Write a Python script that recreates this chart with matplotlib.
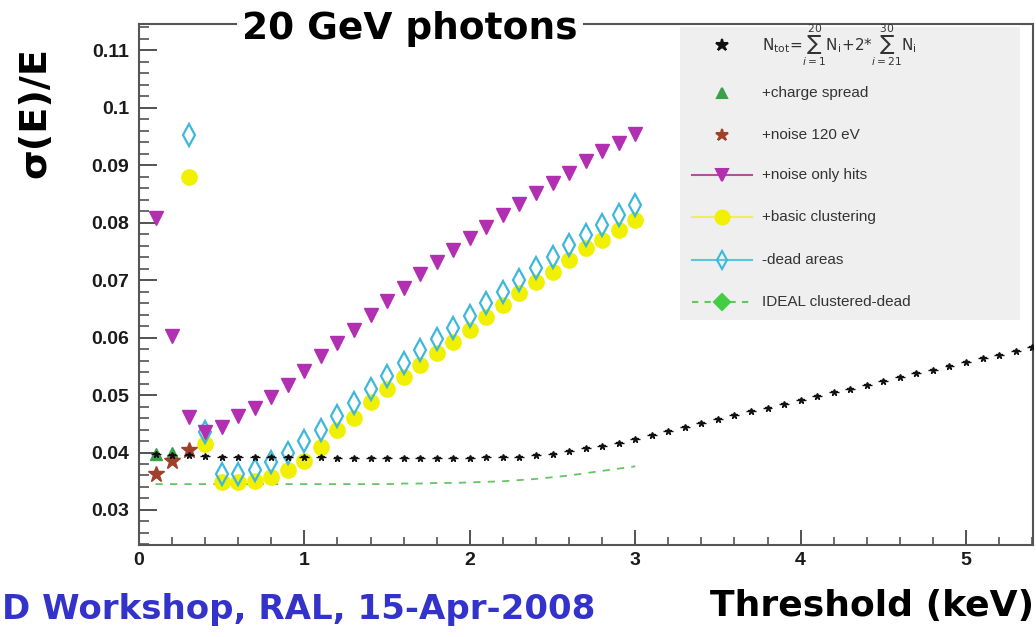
import matplotlib
matplotlib.use("Agg")
import matplotlib.pyplot as plt
from matplotlib.lines import Line2D
from matplotlib.patches import Rectangle
from matplotlib.font_manager import FontProperties

# ---------------- data ----------------
# thresholds (keV) for the full-range sum series
thr_sum = [0.1, 0.2, 0.3, 0.4, 0.5, 0.6, 0.7, 0.8, 0.9, 1.0,
           1.1, 1.2, 1.3, 1.4, 1.5, 1.6, 1.7, 1.8, 1.9, 2.0,
           2.1, 2.2, 2.3, 2.4, 2.5, 2.6, 2.7, 2.8, 2.9, 3.0,
           3.1, 3.2, 3.3, 3.4, 3.5, 3.6, 3.7, 3.8, 3.9, 4.0,
           4.1, 4.2, 4.3, 4.4, 4.5, 4.6, 4.7, 4.8, 4.9, 5.0,
           5.1, 5.2, 5.3, 5.4]
res_sum = [0.0398, 0.0395, 0.0395, 0.0394, 0.0393, 0.0393, 0.0392, 0.0392, 0.0392, 0.0392,
           0.0392, 0.0391, 0.0391, 0.0391, 0.0391, 0.0391, 0.0391, 0.0391, 0.0391, 0.0391,
           0.0392, 0.0392, 0.0393, 0.0395, 0.0398, 0.0402, 0.0407, 0.0412, 0.0417, 0.0423,
           0.0430, 0.0437, 0.0444, 0.0451, 0.0458, 0.0465, 0.0472, 0.0478, 0.0485, 0.0492,
           0.0498, 0.0505, 0.0511, 0.0518, 0.0525, 0.0531, 0.0538, 0.0544, 0.0551, 0.0557,
           0.0564, 0.0570, 0.0577, 0.0584]

thr_charge = [0.1, 0.2]
res_charge = [0.0398, 0.0400]

thr_noise = [0.1, 0.2, 0.3]
res_noise = [0.0362, 0.0385, 0.0405]

# thresholds 0.1 .. 3.0 keV
thr = [0.1, 0.2, 0.3, 0.4, 0.5, 0.6, 0.7, 0.8, 0.9, 1.0,
       1.1, 1.2, 1.3, 1.4, 1.5, 1.6, 1.7, 1.8, 1.9, 2.0,
       2.1, 2.2, 2.3, 2.4, 2.5, 2.6, 2.7, 2.8, 2.9, 3.0]
res_noise_hits = [0.0809, 0.0603, 0.0461, 0.0435, 0.0445, 0.0463, 0.0478, 0.0497, 0.0518, 0.0542,
                  0.0568, 0.0591, 0.0614, 0.0640, 0.0663, 0.0687, 0.0710, 0.0732, 0.0752, 0.0773,
                  0.0792, 0.0813, 0.0833, 0.0852, 0.0870, 0.0887, 0.0908, 0.0925, 0.0939, 0.0955]

thr_clus = [0.3, 0.4, 0.5, 0.6, 0.7, 0.8, 0.9, 1.0,
            1.1, 1.2, 1.3, 1.4, 1.5, 1.6, 1.7, 1.8, 1.9, 2.0,
            2.1, 2.2, 2.3, 2.4, 2.5, 2.6, 2.7, 2.8, 2.9, 3.0]
res_clus = [0.0880, 0.0414, 0.0348, 0.0348, 0.0350, 0.0358, 0.0370, 0.0385,
            0.0410, 0.0440, 0.0460, 0.0488, 0.0510, 0.0532, 0.0553, 0.0574, 0.0593, 0.0614,
            0.0636, 0.0657, 0.0678, 0.0696, 0.0715, 0.0735, 0.0756, 0.0770, 0.0788, 0.0805]
res_dead = [0.0953, 0.0435, 0.0362, 0.0362, 0.0370, 0.0383, 0.0400, 0.0420,
            0.0440, 0.0463, 0.0487, 0.0510, 0.0533, 0.0556, 0.0579, 0.0597, 0.0617, 0.0637,
            0.0660, 0.0680, 0.0700, 0.0721, 0.0741, 0.0762, 0.0779, 0.0796, 0.0814, 0.0831]

res_ideal = [0.0345, 0.0345, 0.0345, 0.0345, 0.0345, 0.0345, 0.0345, 0.0345, 0.0345, 0.0345,
             0.0345, 0.0345, 0.0345, 0.0345, 0.0345, 0.0346, 0.0346, 0.0347, 0.0347, 0.0348,
             0.0349, 0.0350, 0.0352, 0.0354, 0.0357, 0.0360, 0.0364, 0.0368, 0.0372, 0.0376]

legend_labels = [r"$\mathrm{N_{tot}}\!=\!\sum_{i=1}^{20}\mathrm{N_i}\!+\!2{*}\sum_{i=21}^{30}\mathrm{N_i}$",
                 "+charge spread", "+noise 120 eV", "+noise only hits",
                 "+basic clustering", "-dead areas", "IDEAL clustered-dead"]

# ---------------- styles ----------------
C_BLACK = "#111111"
C_CHARGE = "#3aa04a"
C_NOISE = "#a0402a"
C_HITS = "#b22fb2"
C_CLUS = "#f0f000"
C_DEAD = "#3cb8dc"
C_IDEAL = "#66c466"

W, H = 1036, 637
fig = plt.figure(figsize=(W / 100, H / 100), dpi=100)
ax = fig.add_axes([139 / W, 1 - 545 / H, (1033 - 139) / W, (545 - 24) / H])

ax.plot(thr, res_ideal, ls=(0, (4, 4)), lw=1.3, color=C_IDEAL, zorder=2)
ax.plot(thr_clus, res_clus, ls="none", marker="o", ms=11, color=C_CLUS,
        mec=C_CLUS, zorder=3)
ax.plot(thr_clus, res_dead, ls="none", marker="d", ms=11, mfc="none",
        mec=C_DEAD, mew=1.6, zorder=4)
ax.plot(thr, res_noise_hits, ls="none", marker="v", ms=10.5, color=C_HITS,
        mec=C_HITS, zorder=5)
ax.plot(thr_charge, res_charge, ls="none", marker="^", ms=8, color=C_CHARGE, zorder=5)
ax.plot(thr_noise, res_noise, ls="none", marker="*", ms=12, color=C_NOISE, zorder=6)
ax.errorbar(thr_sum, res_sum, xerr=0.03, fmt="*", ms=5, color=C_BLACK,
            elinewidth=1.0, capsize=0, zorder=7)

ax.set_xlim(0, 5.405)
ax.set_ylim(0.0239, 0.1146)

ax.set_xticks([0, 1, 2, 3, 4, 5])
ax.set_xticks([i * 0.2 for i in range(28)], minor=True)
ax.set_yticks([0.03, 0.04, 0.05, 0.06, 0.07, 0.08, 0.09, 0.1, 0.11])
ax.set_yticklabels(["0.03", "0.04", "0.05", "0.06", "0.07", "0.08", "0.09", "0.1", "0.11"])
ax.set_yticks([0.024 + i * 0.002 for i in range(46)], minor=True)
ax.set_xticklabels(["0", "1", "2", "3", "4", "5"])

tick_font = FontProperties(family="Liberation Sans", weight="bold", size=14)
for lab in ax.get_xticklabels() + ax.get_yticklabels():
    lab.set_fontproperties(tick_font)
    lab.set_color("#1a1a1a")

ax.tick_params(axis="y", which="major", direction="in", length=13, width=1.3,
               color="#444444", pad=7)
ax.tick_params(axis="y", which="minor", direction="in", length=7, width=1.1,
               color="#444444")
ax.tick_params(axis="x", which="major", direction="in", length=11, width=1.3,
               color="#444444", pad=5)
ax.tick_params(axis="x", which="minor", direction="in", length=6, width=1.1,
               color="#444444")
for s in ax.spines.values():
    s.set_color("#555555")
    s.set_linewidth(1.5)

# ---------------- legend panel ----------------
lx0, lx1 = (680 - 139) / 894, (1020 - 139) / 894
ly0, ly1 = (545 - 320) / 521, (545 - 27) / 521
ax.add_patch(Rectangle((lx0, ly0), lx1 - lx0, ly1 - ly0, transform=ax.transAxes,
                       facecolor="#efefef", edgecolor="none", zorder=8))


def px_x(p):
    return (p - 139) / 894


def px_y(p):
    return (545 - p) / 521


rows_y = [45, 93, 135, 175, 217, 260, 302]
sym_x = 722
text_x = 762
handles = [
    dict(marker="*", ms=9, color=C_BLACK, ls="none"),
    dict(marker="^", ms=7, color=C_CHARGE, ls="none"),
    dict(marker="*", ms=9, color=C_NOISE, ls="none"),
    dict(marker="v", ms=9, color=C_HITS, ls="-", lc="#b050a0"),
    dict(marker="o", ms=10, color=C_CLUS, ls="-", lc="#eeee66"),
    dict(marker="d", ms=9, color=C_DEAD, ls="-", lc="#55c8dc", mfc="none"),
    dict(marker="D", ms=8, color="#44cc44", ls=(0, (3, 3)), lc=C_IDEAL),
]
for y, h, label in zip(rows_y, handles, legend_labels):
    yy = px_y(y)
    if h["ls"] != "none":
        ax.add_line(Line2D([px_x(692), px_x(752)], [yy, yy], transform=ax.transAxes,
                           color=h["lc"], lw=1.5, ls=h["ls"], zorder=9))
    ax.add_line(Line2D([px_x(sym_x)], [yy], transform=ax.transAxes, marker=h["marker"],
                       ms=h["ms"], color=h["color"], mfc=h.get("mfc", h["color"]),
                       mew=1.5, ls="none", zorder=10))
    ax.text(px_x(text_x), yy, label, transform=ax.transAxes, ha="left", va="center",
            fontsize=11, family="Liberation Sans", color="#333333", zorder=10)

# ---------------- slide texts ----------------
fig.text(410 / W, 1 - 29 / H, "20 GeV photons", ha="center", va="center",
         fontsize=27, weight="bold", family="DejaVu Sans", color="black",
         bbox=dict(facecolor="white", edgecolor="none", pad=4))
fig.text(35 / W, 1 - 112 / H, "σ(E)/E", rotation=90, ha="center", va="center",
         fontsize=27.5, weight="bold", family="DejaVu Sans", color="black")
fig.text(1034 / W, 1 - 606 / H, "Threshold (keV)", ha="right", va="center",
         fontsize=26, weight="bold", family="DejaVu Sans", color="black")
fig.text(2 / W, 1 - 610 / H, "D Workshop, RAL, 15-Apr-2008", ha="left", va="center",
         fontsize=24.5, weight="bold", family="DejaVu Sans", color="#3333cc")

fig.savefig("out.png", dpi=100)
